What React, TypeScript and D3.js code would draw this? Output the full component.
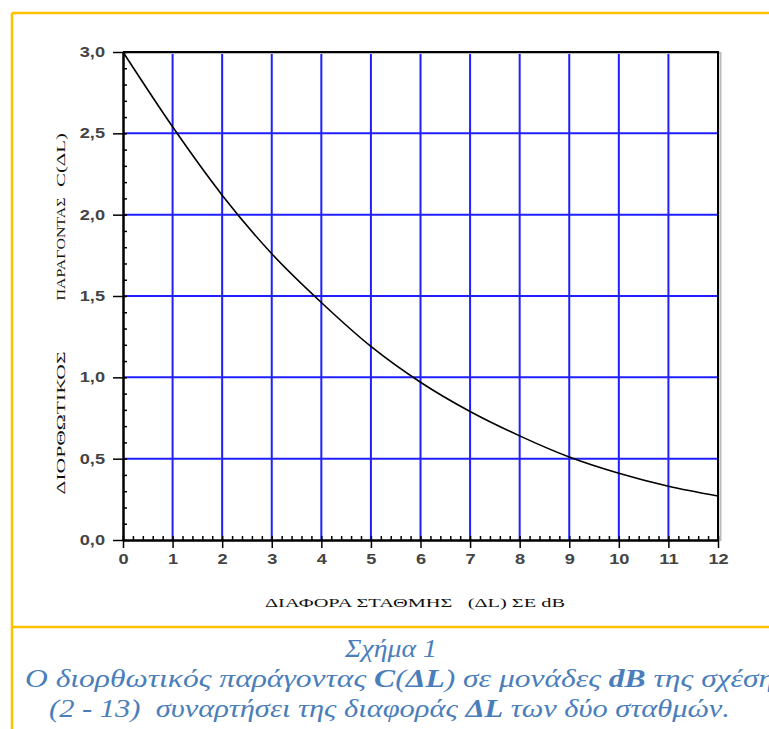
import React, { useEffect, useRef } from 'react';
import * as d3 from 'd3';

// level difference ΔL (dB) and correction factor C(ΔL)
const deltaL = [0, 1, 2, 3, 4, 5, 6, 7, 8, 9, 10, 11, 12];
const correction = [3.0, 2.54, 2.12, 1.76, 1.46, 1.19, 0.97, 0.79, 0.64, 0.51, 0.41, 0.33, 0.27];

const xTicks = [0, 1, 2, 3, 4, 5, 6, 7, 8, 9, 10, 11, 12];
const yTicks = [0, 0.5, 1.0, 1.5, 2.0, 2.5, 3.0];
const yTickLabels = ['0,0', '0,5', '1,0', '1,5', '2,0', '2,5', '3,0'];

const yLabelParts = ['ΔΙΟΡΘΩΤΙΚΟΣ', 'ΠΑΡΑΓΟΝΤΑΣ', 'C(ΔL)'];
const xLabel = 'ΔΙΑΦΟΡΑ ΣΤΑΘΜΗΣ   (ΔL) ΣΕ dB';
const captionTitle = 'Σχήμα 1';

export default function App() {
  const svgRef = useRef<SVGSVGElement>(null);
  const width = 769;
  const height = 729;
  const plot = { left: 123, right: 718, top: 52, bottom: 540 };

  useEffect(() => {
    const svg = d3.select(svgRef.current);
    svg.selectAll('*').remove();

    const x = d3.scaleLinear().domain([0, 12]).range([plot.left, plot.right]);
    const y = d3.scaleLinear().domain([0, 3]).range([plot.bottom, plot.top]);

    // orange frame
    const frame = svg.append('g').attr('stroke', '#FFC000').attr('stroke-width', 2.5);
    frame.append('line').attr('x1', 12).attr('x2', 12).attr('y1', 13).attr('y2', height);
    frame.append('line').attr('x1', 12).attr('x2', width).attr('y1', 13).attr('y2', 13);
    frame.append('line').attr('x1', 12).attr('x2', width).attr('y1', 627).attr('y2', 627);

    // grid
    const grid = svg.append('g').attr('stroke', '#1f1fff').attr('stroke-width', 2);
    grid
      .selectAll('line.gx')
      .data(xTicks.slice(1, -1))
      .enter()
      .append('line')
      .attr('x1', (d) => x(d))
      .attr('x2', (d) => x(d))
      .attr('y1', plot.top)
      .attr('y2', plot.bottom);
    grid
      .selectAll('line.gy')
      .data(yTicks.slice(1, -1))
      .enter()
      .append('line')
      .attr('x1', plot.left)
      .attr('x2', plot.right)
      .attr('y1', (d) => y(d))
      .attr('y2', (d) => y(d));

    // top and right border (with a light shadow)
    svg
      .append('path')
      .attr('d', `M${plot.left},${plot.top}H${plot.right + 1}V${plot.bottom}`)
      .attr('fill', 'none')
      .attr('stroke', '#bbb')
      .attr('stroke-width', 2)
      .attr('transform', 'translate(1.5,1)');
    svg
      .append('path')
      .attr('d', `M${plot.left},${plot.top}H${plot.right}V${plot.bottom}`)
      .attr('fill', 'none')
      .attr('stroke', '#000')
      .attr('stroke-width', 2);

    const styleAxis = (g: any) => {
      g.attr('font-size', null).attr('font-family', null);
      g.select('.domain').attr('stroke', '#000').attr('stroke-width', 2);
      g.selectAll('.tick line').attr('stroke', '#000').attr('stroke-width', 1.5);
      g.selectAll('.tick text')
        .style('font-family', '"Liberation Sans", Arial, sans-serif')
        .style('font-weight', 'bold')
        .style('font-size', '14px')
        .attr('fill', '#444')
        .each(function (this: SVGTextElement) {
          const w = this.getComputedTextLength();
          if (w > 0) {
            d3.select(this).attr('textLength', w * 1.3).attr('lengthAdjust', 'spacingAndGlyphs');
          }
        });
    };

    // minor ticks (inside)
    svg
      .append('g')
      .attr('transform', `translate(${plot.left},0)`)
      .call(
        d3.axisRight(y).tickValues(d3.range(0, 31).map((i) => i / 10)).tickSize(4).tickSizeOuter(0).tickFormat(() => '')
      )
      .call(styleAxis);
    svg
      .append('g')
      .attr('transform', `translate(0,${plot.bottom})`)
      .call(
        d3.axisTop(x).tickValues(d3.range(0, 61).map((i) => i / 5)).tickSize(4).tickSizeOuter(0).tickFormat(() => '')
      )
      .call(styleAxis);

    // major axes
    svg
      .append('g')
      .attr('transform', `translate(${plot.left},0)`)
      .call(
        d3
          .axisLeft(y)
          .tickValues(yTicks)
          .tickSize(10)
          .tickSizeOuter(0)
          .tickPadding(8)
          .tickFormat((d, i) => yTickLabels[i])
      )
      .call(styleAxis);
    svg
      .append('g')
      .attr('transform', `translate(0,${plot.bottom})`)
      .call(d3.axisBottom(x).tickValues(xTicks).tickSize(8).tickSizeOuter(0).tickPadding(6).tickFormat((d) => String(d)))
      .call(styleAxis);

    // curve
    const line = d3
      .line<number>()
      .x((d, i) => x(deltaL[i]))
      .y((d) => y(d))
      .curve(d3.curveMonotoneX);
    svg
      .append('path')
      .datum(correction)
      .attr('d', line)
      .attr('fill', 'none')
      .attr('stroke', '#000')
      .attr('stroke-width', 1.6);

    // axis titles
    const serif = '"Liberation Serif", "Times New Roman", serif';
    const yPos = [
      { cy: 423, len: 143 },
      { cy: 249, len: 103 },
      { cy: 160, len: 54 },
    ];
    yLabelParts.forEach((t, i) => {
      svg
        .append('text')
        .attr('transform', `translate(65,${yPos[i].cy}) rotate(-90)`)
        .attr('text-anchor', 'middle')
        .attr('font-family', serif)
        .attr('font-size', 13)
        .attr('fill', '#111')
        .attr('textLength', yPos[i].len)
        .attr('lengthAdjust', 'spacingAndGlyphs')
        .text(t);
    });
    svg
      .append('text')
      .attr('x', 265)
      .attr('y', 607)
      .attr('font-family', serif)
      .attr('font-size', 13)
      .attr('fill', '#111')
      .attr('xml:space', 'preserve')
      .attr('textLength', 300)
      .attr('lengthAdjust', 'spacingAndGlyphs')
      .text(xLabel);

    // caption
    const capFont = '"Liberation Serif", "DejaVu Serif", serif';
    const blue = '#4a7ebb';
    svg
      .append('text')
      .attr('x', 391)
      .attr('y', 657)
      .attr('text-anchor', 'middle')
      .attr('font-family', capFont)
      .attr('font-style', 'italic')
      .attr('font-size', 25)
      .attr('fill', blue)
      .attr('textLength', 92)
      .attr('lengthAdjust', 'spacingAndGlyphs')
      .text(captionTitle);

    const line2 = svg
      .append('text')
      .attr('x', 25)
      .attr('y', 687)
      .attr('font-family', capFont)
      .attr('font-style', 'italic')
      .attr('font-size', 25)
      .attr('fill', blue)
      .attr('textLength', 762)
      .attr('lengthAdjust', 'spacingAndGlyphs');
    [
      ['Ο διορθωτικός παράγοντας ', false],
      ['C', true],
      ['(', false],
      ['ΔL', true],
      [') σε μονάδες ', false],
      ['dB', true],
      [' της σχέσης', false],
    ].forEach(([t, b]) => {
      line2.append('tspan').attr('font-weight', b ? 'bold' : 'normal').text(t as string);
    });

    const line3 = svg
      .append('text')
      .attr('x', 49)
      .attr('y', 717)
      .attr('font-family', capFont)
      .attr('font-style', 'italic')
      .attr('font-size', 25)
      .attr('fill', blue)
      .attr('xml:space', 'preserve')
      .attr('textLength', 681)
      .attr('lengthAdjust', 'spacingAndGlyphs');
    [
      ['(2 - 13)  συναρτήσει της διαφοράς ', false],
      ['ΔL', true],
      [' των δύο σταθμών.', false],
    ].forEach(([t, b]) => {
      line3.append('tspan').attr('font-weight', b ? 'bold' : 'normal').text(t as string);
    });
  }, []);

  return (
    <svg
      ref={svgRef}
      width={width}
      height={height}
      style={{ position: 'absolute', left: 0, top: 0, background: '#fff' }}
    ></svg>
  );
}
